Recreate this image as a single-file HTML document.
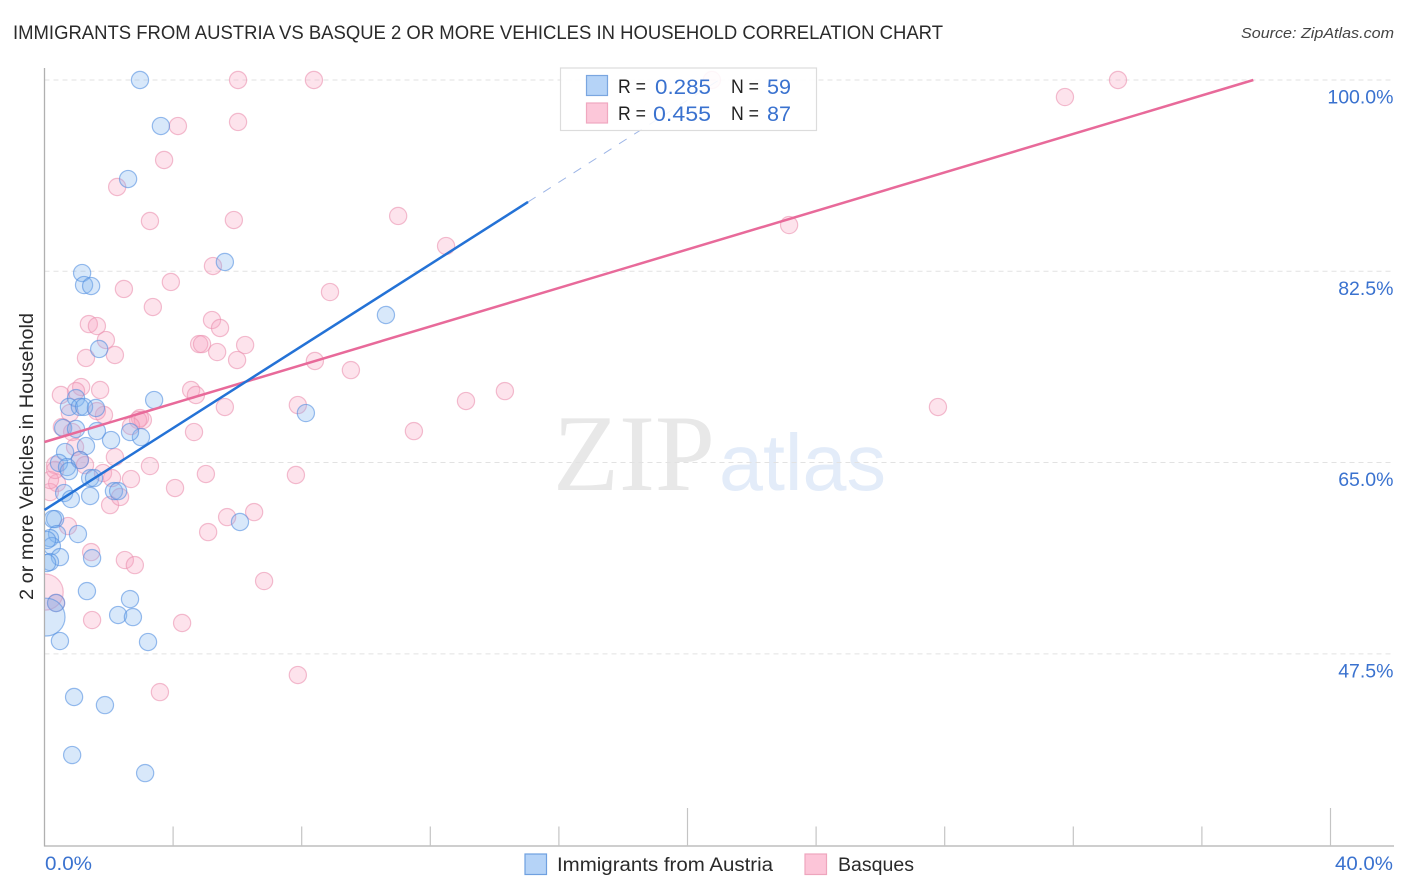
<!DOCTYPE html>
<html>
<head>
<meta charset="utf-8">
<title>Immigrants from Austria vs Basque 2 or more Vehicles in Household Correlation Chart</title>
<style>
html,body{margin:0;padding:0;background:#fff;}
svg{display:block;}
text{font-family:"Liberation Sans",sans-serif;}
</style>
</head>
<body>
<svg id="chart" width="1406" height="892" viewBox="0 0 1406 892" xmlns="http://www.w3.org/2000/svg">
  <defs>
    <clipPath id="plot-clip"><rect x="45" y="60" width="1360" height="786"/></clipPath>
  </defs>
  <rect x="0" y="0" width="1406" height="892" fill="#fff"/>
  <text x="13" y="39" font-size="19.5" fill="#2a2a2a" textLength="930" lengthAdjust="spacingAndGlyphs">IMMIGRANTS FROM AUSTRIA VS BASQUE 2 OR MORE VEHICLES IN HOUSEHOLD CORRELATION CHART</text>
  <text x="1241" y="38" font-size="15" font-style="italic" fill="#444" textLength="153" lengthAdjust="spacingAndGlyphs">Source: ZipAtlas.com</text>
  <text x="553" y="490" font-size="109" fill="#e8e8e8" style="font-family:'Liberation Serif',serif" textLength="162" lengthAdjust="spacingAndGlyphs">ZIP</text>
  <text x="719" y="490" font-size="80" fill="#e3ecf9" textLength="167" lengthAdjust="spacingAndGlyphs">atlas</text>
  <g id="grid"></g>
  <g id="axes"></g>
  <g id="points" clip-path="url(#plot-clip)"></g>
  <g id="trends"></g>
  <g id="labels"></g>
  <text transform="translate(33,456.5) rotate(-90)" text-anchor="middle" font-size="19" fill="#2a2a2a" textLength="287" lengthAdjust="spacingAndGlyphs">2 or more Vehicles in Household</text>

  <g>
    <rect x="560.5" y="68" width="256" height="62.5" fill="#fff" fill-opacity="0.88" stroke="#dcdcdc" stroke-width="1.2"/>
    <rect x="586.5" y="75.5" width="21" height="20" fill="#b5d3f7" stroke="#7aa6e0" stroke-width="1.2"/>
    <rect x="586.5" y="103" width="21" height="20" fill="#fcc7d9" stroke="#f0a8c0" stroke-width="1.2"/>
    <text x="618" y="93" font-size="19" fill="#222" textLength="28" lengthAdjust="spacingAndGlyphs">R =</text>
    <text x="655" y="94" font-size="21" fill="#3a72cf" textLength="56" lengthAdjust="spacingAndGlyphs">0.285</text>
    <text x="731" y="93" font-size="19" fill="#222" textLength="28" lengthAdjust="spacingAndGlyphs">N =</text>
    <text x="767" y="94" font-size="21" fill="#3a72cf" textLength="24" lengthAdjust="spacingAndGlyphs">59</text>
    <text x="618" y="120" font-size="19" fill="#222" textLength="28" lengthAdjust="spacingAndGlyphs">R =</text>
    <text x="653" y="121" font-size="21" fill="#3a72cf" textLength="58" lengthAdjust="spacingAndGlyphs">0.455</text>
    <text x="731" y="120" font-size="19" fill="#222" textLength="28" lengthAdjust="spacingAndGlyphs">N =</text>
    <text x="767" y="121" font-size="21" fill="#3a72cf" textLength="24" lengthAdjust="spacingAndGlyphs">87</text>
  </g>

  <g>
    <rect x="525" y="854" width="21.5" height="20.5" fill="#b5d3f7" stroke="#6fa0e0" stroke-width="1.2"/>
    <text x="557" y="871" font-size="19" fill="#2a2a2a" textLength="216" lengthAdjust="spacingAndGlyphs">Immigrants from Austria</text>
    <rect x="805" y="854" width="21.5" height="20.5" fill="#fcc5d8" stroke="#eea5bd" stroke-width="1.2"/>
    <text x="838" y="871" font-size="19" fill="#2a2a2a" textLength="76" lengthAdjust="spacingAndGlyphs">Basques</text>
  </g>
</svg>
<script>
var xTickValues = [0,4,8,12,16,20,24,28,32,36,40];
var xMajorTicks = [20,40];
var xLabelValues = ["0.0%","40.0%"];
var yTickValues = [100,82.5,65,47.5];
var yTickLabels = ["100.0%","82.5%","65.0%","47.5%"];

var austriaX = [2.97,3.62,2.60,5.61,1.17,1.23,1.45,10.62,1.70,3.41,8.13,0.98,0.76,1.10,1.23,1.60,0.58,0.98,1.63,2.07,3.00,2.66,1.29,0.64,1.10,0.45,0.70,0.76,1.42,1.54,2.16,2.29,0.61,1.42,0.82,0.33,0.26,1.04,0.39,0.17,0.23,0.48,0.17,0.08,1.48,1.32,2.66,0.36,2.29,2.75,0.05,0.48,3.22,0.92,1.88,0.86,3.13,6.08,0.08];
var austriaY = [100,95.79,90.94,83.35,82.34,81.24,81.15,78.50,75.39,70.72,69.53,70.90,70.09,70.09,70.09,69.99,68.16,68.07,67.88,67.06,67.33,67.79,66.51,65.96,65.23,64.96,64.59,64.22,63.58,63.58,62.39,62.39,62.21,61.94,61.66,59.83,59.83,58.46,58.46,58.09,57.36,56.35,55.90,55.81,56.26,53.24,52.51,52.15,51.05,50.86,50.86,48.67,48.58,43.55,42.81,38.24,36.59,59.56,57.91];
var austriaSize = [1,1,1,1,1,1,1,1,1,1,1,1,1,1,1,1,1,1,1,1,1,1,1,1,1,1,1,1,1,1,1,1,1,1,1,1,1,1,1,1,1,1,1,1,1,1,1,1,1,1,2.2,1,1,1,1,1,1,1,1];

var basquesX = [6.02,8.38,33.39,20.76,31.74,4.15,6.02,3.72,2.26,3.28,5.89,11.00,12.49,23.16,5.24,3.93,2.47,8.88,3.37,5.21,5.46,1.38,1.63,1.91,4.81,4.90,5.37,6.24,2.19,1.29,5.99,8.41,9.53,14.32,13.11,27.79,0.51,1.14,0.98,1.73,4.56,4.71,5.61,7.88,0.79,1.85,1.63,11.49,4.65,2.97,2.91,3.06,2.69,0.86,0.95,0.54,2.19,1.10,1.26,0.33,3.28,1.82,2.10,2.69,0.39,0.17,4.06,5.02,7.82,2.04,2.35,5.68,6.52,0.73,5.09,1.45,2.50,2.81,6.83,0.36,0.02,1.48,4.28,3.59,7.88,0.17,0.33];
var basquesY = [100,100,100,100,98.44,95.79,96.16,92.68,90.21,87.10,87.19,87.56,84.81,86.73,82.98,81.52,80.88,80.60,79.23,78.04,77.31,77.67,77.49,76.21,75.84,75.84,75.11,75.75,74.84,74.57,74.38,74.29,73.46,71.54,70.63,70.08,71.18,71.91,71.54,71.64,71.64,71.18,70.08,70.26,69.53,69.35,69.71,67.88,67.79,69.07,68.89,68.89,68.34,67.79,66.42,68.25,65.50,65.23,64.77,64.77,64.68,64.04,63.58,63.49,63.13,62.30,62.67,63.95,63.86,61.11,61.85,60.01,60.47,59.19,58.64,56.81,56.08,55.62,54.16,52.15,53.15,50.59,50.32,44.00,45.56,63.40,64.32];
var basquesSize = [1,1,1,1,1,1,1,1,1,1,1,1,1,1,1,1,1,1,1,1,1,1,1,1,1,1,1,1,1,1,1,1,1,1,1,1,1,1,1,1,1,1,1,1,1,1,1,1,1,1,1,1,1,1,1,1,1,1,1,1,1,1,1,1,1,1,1,1,1,1,1,1,1,1,1,1,1,1,1,1,2.1,1,1,1,1,1,1];

var austriaTrendX = [0,15.04];
var austriaTrendY = [60.66,88.84];
var austriaDashX = [15.04,20.98];
var austriaDashY = [88.84,100];
var basquesTrendX = [0,37.6];
var basquesTrendY = [66.88,100];

var NS = 'http://www.w3.org/2000/svg';
function xScale(v){ return 44.5 + v * 32.15; }
function yScale(v){ return 80 + (100 - v) * 10.93; }
function make(tag, attrs, parent){
  var el = document.createElementNS(NS, tag);
  for (var k in attrs) el.setAttribute(k, attrs[k]);
  parent.appendChild(el);
  return el;
}
var grid = document.getElementById('grid');
var axes = document.getElementById('axes');
var points = document.getElementById('points');
var trends = document.getElementById('trends');
var labels = document.getElementById('labels');

yTickValues.forEach(function(v, i){
  var line = make('line', {x1:44.5, x2:1394, y1:yScale(v), y2:yScale(v), stroke:'#e2e2e2', 'stroke-width':1, 'stroke-dasharray':'5 4'}, grid);
  
  
  var t = make('text', {x:1393.5, y:yScale(v)+23.5, 'text-anchor':'end', 'font-size':19.5, fill:'#3a72cf'}, labels);
  t.textContent = yTickLabels[i];
  
  
});

var yAxisLine = make('line', {x1:44.5, x2:44.5, y1:68, y2:846.5, stroke:'#b0b0b0', 'stroke-width':1.3}, axes);


var xAxisLine = make('line', {x1:44, x2:1394, y1:846, y2:846, stroke:'#b0b0b0', 'stroke-width':1.3}, axes);



xTickValues.forEach(function(v){
  if (v === 0) return;
  var major = xMajorTicks.indexOf(v) >= 0;
  var tick = make('line', {x1:xScale(v), x2:xScale(v), y1:major ? 808 : 826.5, y2:846, stroke:'#c4c4c4', 'stroke-width':1.2}, axes);
  
  
});

var xLabelLeft = make('text', {x:45, y:870, 'font-size':19, fill:'#3a72cf', textLength:47, lengthAdjust:'spacingAndGlyphs'}, labels);
xLabelLeft.textContent = xLabelValues[0];


var xLabelRight = make('text', {x:1335, y:870, 'font-size':19, fill:'#3a72cf', textLength:58, lengthAdjust:'spacingAndGlyphs'}, labels);
xLabelRight.textContent = xLabelValues[1];



function drawSeries(xs, ys, sizes, fill, stroke, pointName){
  xs.forEach(function(x, i){
    var c = make('circle', {cx:xScale(x), cy:yScale(ys[i]), r:8.6 * sizes[i], fill:fill, 'fill-opacity':0.3, stroke:stroke, 'stroke-opacity':0.58, 'stroke-width':1.2}, points);
    
    
  });
}
drawSeries(basquesX, basquesY, basquesSize, '#f7a3c0', '#ea8fae', 'basques-point');
drawSeries(austriaX, austriaY, austriaSize, '#7fb2f0', '#4f8de0', 'austria-point');

var austriaDash = make('line', {x1:xScale(austriaDashX[0]), y1:yScale(austriaDashY[0]), x2:xScale(austriaDashX[1]), y2:yScale(austriaDashY[1]), stroke:'#9db5e6', 'stroke-width':1, 'stroke-dasharray':'9 9'}, trends);


var basquesTrend = make('line', {x1:xScale(basquesTrendX[0]), y1:yScale(basquesTrendY[0]), x2:xScale(basquesTrendX[1]), y2:yScale(basquesTrendY[1]), stroke:'#e86a9a', 'stroke-width':2.5}, trends);


var austriaTrend = make('line', {x1:xScale(austriaTrendX[0]), y1:yScale(austriaTrendY[0]), x2:xScale(austriaTrendX[1]), y2:yScale(austriaTrendY[1]), stroke:'#2472d6', 'stroke-width':2.5}, trends);


</script>
</body>
</html>
